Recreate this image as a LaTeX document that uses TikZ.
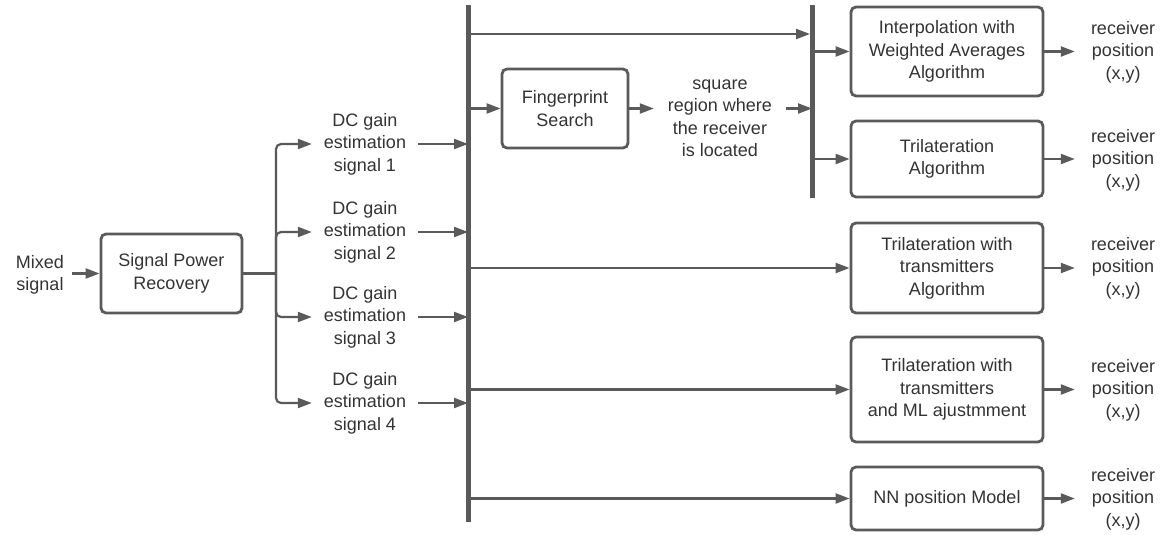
\documentclass[tikz,border=0pt]{standalone}
\usepackage{fontspec}
\setmainfont{Liberation Sans}
\usetikzlibrary{arrows.meta}
\definecolor{ln}{HTML}{5A5A5A}
\definecolor{tx}{HTML}{333333}
\begin{document}
\begin{tikzpicture}[x=1pt,y=-1pt,
  every node/.style={font=\fontsize{18}{22.5}\selectfont, text=tx, align=center},
  blk/.style={draw=ln, line width=2.8pt, rounded corners=5pt, inner sep=0pt, minimum width=192pt},
  lbl/.style={inner sep=0pt},
  conn/.style={draw=ln, line width=2.2pt, -{Triangle[length=14pt,width=10pt]}},
  plain/.style={draw=ln, line width=2.2pt},
  bus/.style={draw=ln, line width=5pt}]
\useasboundingbox (0,0) rectangle (1168,535);
% left
\node[lbl, inner xsep=8pt] (mix) at (40,275) {Mixed\\signal};
\node[blk, minimum width=141pt, minimum height=79pt] (spr) at (171.5,273.5) {Signal Power\\Recovery};
\node[lbl, inner xsep=12pt] (dc1) at (365,144) {DC gain\\estimation\\signal 1};
\node[lbl, inner xsep=12pt] (dc2) at (365,232) {DC gain\\estimation\\signal 2};
\node[lbl, inner xsep=12pt] (dc3) at (365,317) {DC gain\\estimation\\signal 3};
\node[lbl, inner xsep=12pt] (dc4) at (365,403) {DC gain\\estimation\\signal 4};
\coordinate (split) at (276,273.5);
\coordinate (b1t) at (468,5);
\coordinate (b1b) at (468,522);
\coordinate (b2t) at (812,5);
\coordinate (b2b) at (812,198);
\coordinate (topA) at (468,34);
\coordinate (topB) at (810,34);
% middle
\node[blk, minimum width=126pt, minimum height=79pt] (fp) at (565,108.5) {Fingerprint\\Search};
\node[lbl, inner xsep=14pt] (sq) at (720,118) {square\\region where\\the receiver\\is located};
% right boxes
\node[blk, minimum height=89pt] (a1) at (947,51.5) {Interpolation with\\Weighted Averages\\Algorithm};
\node[blk, minimum height=76pt] (a2) at (947,159) {Trilateration\\Algorithm};
\node[blk, minimum height=90pt] (a3) at (947,268) {Trilateration with\\transmitters\\Algorithm};
\node[blk, minimum height=105pt] (a4) at (947,389.5) {Trilateration with\\transmitters\\and ML ajustmment};
\node[blk, minimum height=63pt] (a5) at (947,498.5) {NN position Model};
\foreach \i/\y in {1/52,2/160,3/268,4/390,5/499}{
  \node[lbl, inner xsep=16pt] (o\i) at (1123,\y) {receiver\\position\\(x,y)};
}
% buses
\draw[bus] (b1t) -- (b1b);
\draw[bus] (b2t) -- (b2b);
% connectors left
\draw[conn] (mix.east |- spr.west) -- (spr.west);
\draw[plain] (spr.east) -- (split);
\draw[conn, rounded corners=5pt] (split) |- (dc1.west);
\draw[conn, rounded corners=5pt] (split) |- (dc2.west);
\draw[conn, rounded corners=5pt] (split) |- (dc3.west);
\draw[conn, rounded corners=5pt] (split) |- (dc4.west);
\foreach \i in {1,2,3,4}{
  \draw[conn] (dc\i.east) -- (dc\i.east -| b1t);
}
% from bus 1
\draw[conn] (topA) -- (topB);
\draw[conn] (fp.west -| b1t) -- (fp.west);
\draw[conn] (fp.east) -- (fp.east -| sq.west);
\draw[conn] (sq.east |- fp.east) -- (fp.east -| b2t);
\draw[conn] (a1.west -| b2t) -- (a1.west);
\draw[conn] (a2.west -| b2t) -- (a2.west);
\draw[conn] (a3.west -| b1t) -- (a3.west);
\draw[conn] (a4.west -| b1t) -- (a4.west);
\draw[conn] (a5.west -| b1t) -- (a5.west);
\foreach \i in {1,2,3,4,5}{
  \draw[conn] (a\i.east) -- (a\i.east -| o\i.west);
}
\end{tikzpicture}
\end{document}
